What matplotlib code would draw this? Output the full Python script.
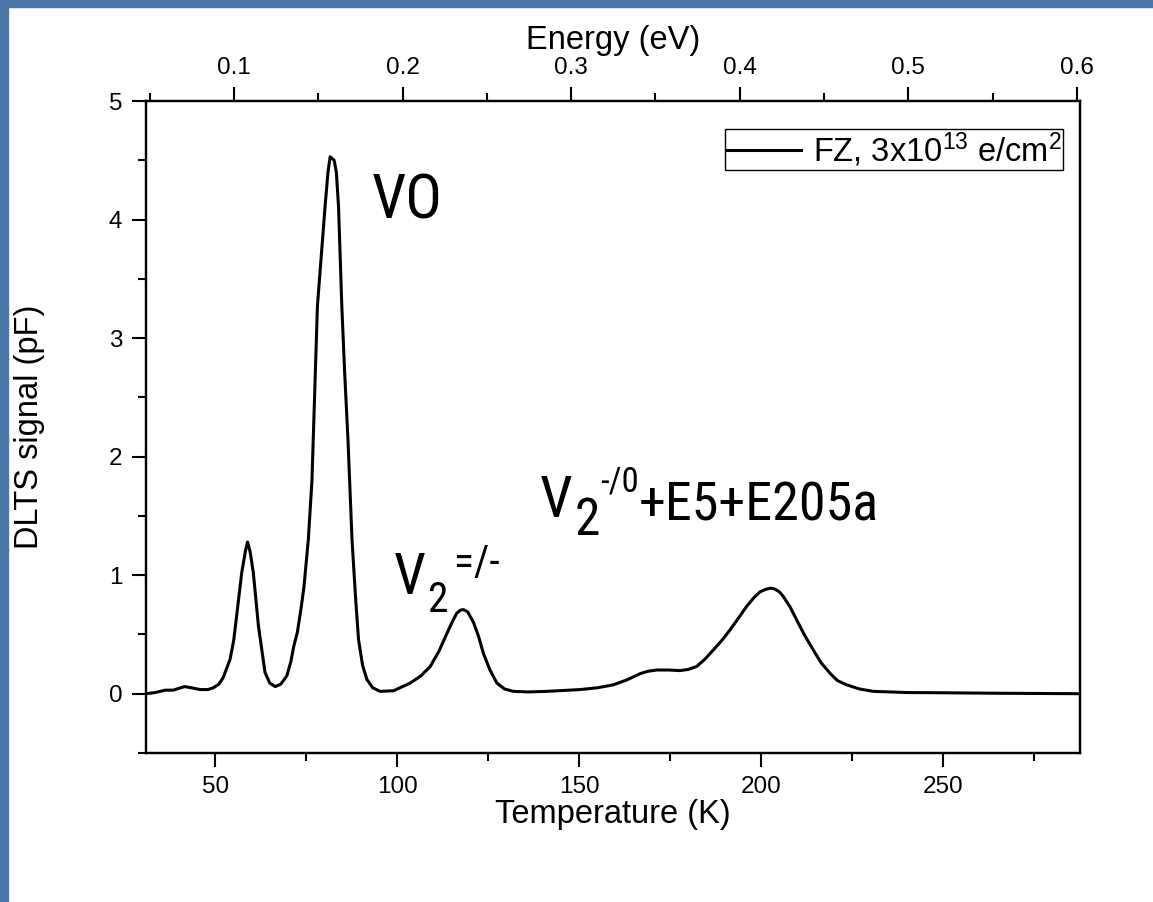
"""
DLTS spectrum of FZ silicon after electron irradiation.
"""

import matplotlib
matplotlib.use('Agg')
import matplotlib.pyplot as plt
from matplotlib.patches import Rectangle

# Temperature (K) and DLTS signal (pF)
temperature = [31.0, 33.5, 36.3, 38.5, 40.0, 41.6, 43.5, 45.9, 48.0, 49.5, 51.0,
               52.2, 54.1, 55.1, 56.0, 57.3, 58.3, 58.9, 59.6, 60.5, 61.9,
               63.7, 65.0, 66.5, 68.0, 69.7, 70.8, 71.6, 72.6, 73.6, 74.4,
               75.6, 76.6, 78.1, 79.3, 80.2, 81.0, 81.6, 82.7, 83.3, 83.9,
               84.8, 85.6, 86.5, 87.6, 88.6, 89.4, 90.5, 91.7, 93.3, 95.3,
               99.0, 103.6, 106.5, 109.1, 111.5, 113.7, 115.2, 116.4, 117.4,
               118.2, 119.4, 121.0, 122.4, 123.7, 125.5, 127.4, 129.5, 131.9,
               136.0, 141.1, 150.3, 155.0, 159.4, 163.0, 166.8, 169.0, 171.3,
               174.5, 177.7, 180.0, 182.3, 184.5, 186.9, 189.2, 191.5, 193.8,
               196.1, 198.0, 199.7, 201.2, 202.5, 203.6, 205.0, 206.1, 208.0,
               209.8, 212.0, 214.3, 216.5, 219.0, 221.0, 223.5, 227.0, 230.8,
               240.0, 250.0, 265.0, 288.0]
dlts_signal = [0.0, 0.01, 0.03, 0.03, 0.045, 0.06, 0.05, 0.035, 0.035, 0.05, 0.08,
               0.135, 0.29, 0.45, 0.68, 1.02, 1.20, 1.28, 1.20, 1.02, 0.57,
               0.18, 0.09, 0.06, 0.08, 0.15, 0.27, 0.40, 0.52, 0.72, 0.90,
               1.30, 1.80, 3.27, 3.75, 4.11, 4.40, 4.53, 4.50, 4.40, 4.11,
               3.27, 2.70, 2.14, 1.30, 0.80, 0.455, 0.24, 0.12, 0.05, 0.02,
               0.025, 0.09, 0.15, 0.23, 0.36, 0.51, 0.61, 0.68, 0.705,
               0.71, 0.69, 0.60, 0.48, 0.34, 0.20, 0.09, 0.04, 0.02,
               0.015, 0.02, 0.035, 0.05, 0.075, 0.115, 0.17, 0.19, 0.20,
               0.20, 0.195, 0.205, 0.23, 0.29, 0.37, 0.45, 0.54, 0.64,
               0.74, 0.81, 0.86, 0.88, 0.89, 0.885, 0.86, 0.82, 0.73,
               0.62, 0.49, 0.37, 0.26, 0.17, 0.11, 0.075, 0.04, 0.02,
               0.01, 0.008, 0.004, 0.0]

legend_label = 'FZ, 3x10$^{13}$ e/cm$^{2}$'
temp_ticks = [50, 100, 150, 200, 250]
energy_ticks = [0.1, 0.2, 0.3, 0.4, 0.5, 0.6]
signal_ticks = [0, 1, 2, 3, 4, 5]

plt.rcParams['font.family'] = ['Liberation Sans', 'DejaVu Sans']
plt.rcParams['mathtext.fontset'] = 'custom'
plt.rcParams['mathtext.rm'] = 'Liberation Sans'
plt.rcParams['mathtext.it'] = 'Liberation Sans'
plt.rcParams['axes.linewidth'] = 1.6

ann_font = ['Roboto Condensed', 'Liberation Sans']

fig = plt.figure(figsize=(11.53, 9.02), dpi=100)
fig.patch.set_facecolor('white')

# blue slide frame (left and top strips)
frame_color = '#4a76a8'
fig.patches.append(Rectangle((0, 0), 8 / 1153, 1, transform=fig.transFigure,
                             color=frame_color, zorder=0))
fig.patches.append(Rectangle((0, 1 - 7 / 902), 1, 7 / 902, transform=fig.transFigure,
                             color=frame_color, zorder=0))

ax = fig.add_axes([0.1266, 0.1652, 0.8101, 0.7228])
ax.plot(temperature, dlts_signal, color='black', linewidth=2.2, label=legend_label)

ax.set_xlim(31.0, 287.6)
ax.set_ylim(-0.5, 5)
ax.set_xticks(temp_ticks)
ax.set_xticks([75, 125, 175, 225, 275], minor=True)
ax.set_yticks(signal_ticks)
ax.set_yticks([-0.5, 0.5, 1.5, 2.5, 3.5, 4.5], minor=True)
ax.tick_params(which='both', direction='out', width=1.5, top=False, right=False)
ax.tick_params(which='major', length=10, labelsize=17.5)
ax.tick_params(which='minor', length=5.5)
ax.tick_params(axis='x', which='major', pad=6.5)
ax.tick_params(axis='y', which='major', pad=7)

ax.set_xlabel('Temperature (K)', fontsize=23.5)
ax.set_ylabel('DLTS signal (pF)', fontsize=23.5)
ax.xaxis.set_label_coords(0.5, -0.07)
ax.yaxis.set_label_coords(-0.108, 0.5)

# energy scale on top
ax2 = ax.twiny()
ax2.set_xlim(0.0478, 0.6018)
ax2.set_xticks(energy_ticks)
ax2.set_xticklabels(['0.1', '0.2', '0.3', '0.4', '0.5', '0.6'])
ax2.set_xticks([0.05, 0.15, 0.25, 0.35, 0.45, 0.55], minor=True)
ax2.tick_params(which='both', direction='out', width=1.5)
ax2.tick_params(which='major', length=10, labelsize=17.5, pad=6)
ax2.tick_params(which='minor', length=5.5)
ax2.set_xlabel('Energy (eV)', fontsize=23.5)
ax2.xaxis.set_label_coords(0.5, 1.08)

leg = ax.legend(loc='upper right', bbox_to_anchor=(0.982, 0.957), borderaxespad=0,
                fontsize=23.5, handlelength=2.3, handletextpad=0.37,
                borderpad=0.03, fancybox=False, framealpha=1)
leg.get_frame().set_edgecolor('black')
leg.get_frame().set_linewidth(1.0)

# peak labels
ax.text(93.1, 4.01, 'VO', fontsize=44, family=ann_font, ha='left', va='baseline')

v_a = ax.text(99.2, 0.843, 'V', fontsize=41, family=ann_font, ha='left', va='baseline')
s_a = ax.annotate('2', xy=(1, 0), xycoords=v_a, xytext=(1, -11), textcoords='offset points',
                  fontsize=30, family=ann_font, ha='left', va='bottom')
ax.annotate('=/-', xy=(1, 0), xycoords=s_a, xytext=(4, 27), textcoords='offset points',
            fontsize=30, family=ann_font, ha='left', va='bottom')

v_b = ax.text(139.3, 1.49, 'V', fontsize=42, family=ann_font, ha='left', va='baseline')
s_b = ax.annotate('2', xy=(1, 0), xycoords=v_b, xytext=(1, -12), textcoords='offset points',
                  fontsize=37, family=ann_font, ha='left', va='bottom')
p_b = ax.annotate('-/0', xy=(1, 0), xycoords=s_b, xytext=(0, 34), textcoords='offset points',
                  fontsize=25, family=ann_font, ha='left', va='bottom')
ax.annotate('+E5+E205a', xy=(1, 0), xycoords=p_b, xytext=(0, -24), textcoords='offset points',
            fontsize=39, family=ann_font, ha='left', va='bottom')

plt.savefig('out.png', dpi=100)
plt.close()
